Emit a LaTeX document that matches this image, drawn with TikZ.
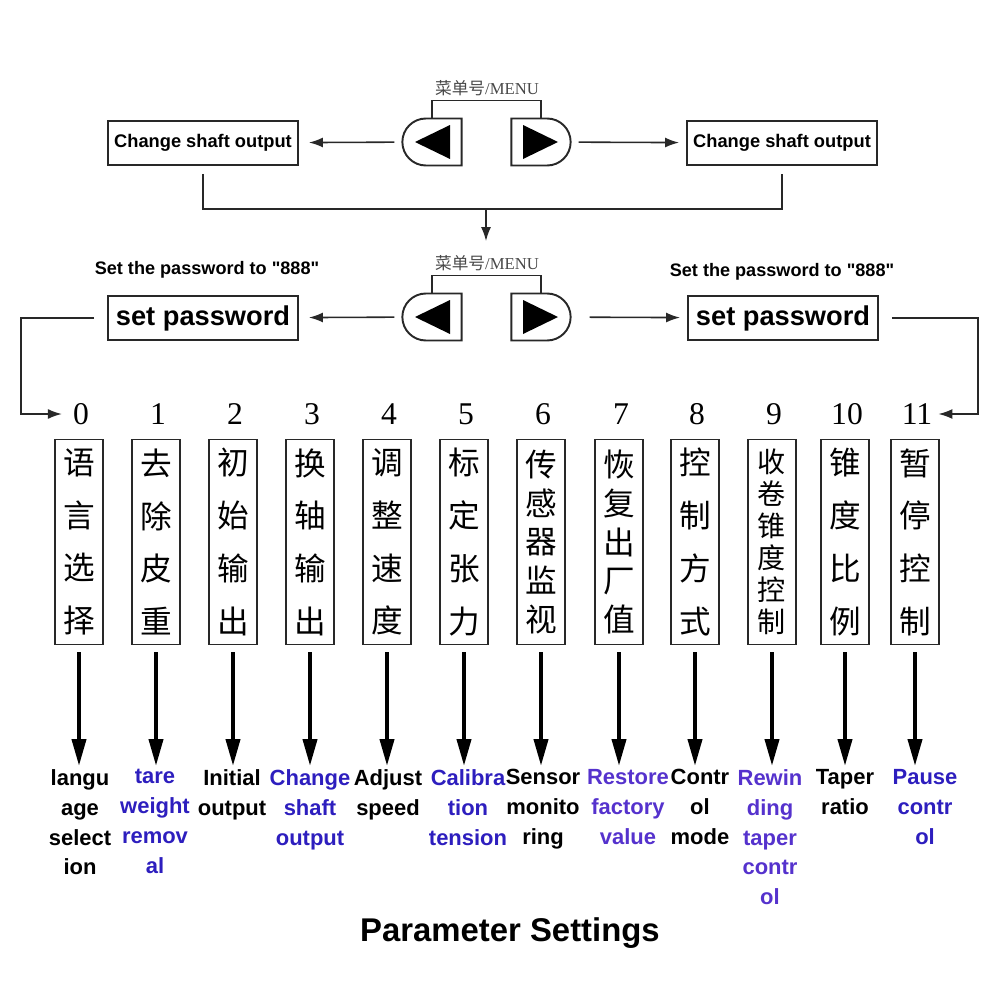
\documentclass[tikz,border=0pt]{standalone}
\usepackage{fontspec}
\setmainfont{Liberation Sans}[Ligatures=TeXOff]
\newfontfamily\numfont{Liberation Serif}
\newfontfamily\cjk{Noto Sans CJK SC}
\usetikzlibrary{positioning,shapes.misc,arrows.meta}
\definecolor{lblue}{RGB}{45,30,190}
\definecolor{lpurple}{RGB}{85,50,205}
\definecolor{ink}{RGB}{40,40,40}

\begin{document}
\begin{tikzpicture}[x=0.2mm,y=-0.2mm,
  box/.style={draw=ink,line width=1.1pt,minimum height=8.8mm,minimum width=38mm,inner sep=0pt},
  btnleft/.style={draw=ink,line width=1.1pt,rounded rectangle,rounded rectangle right arc=none,minimum width=14.2mm,minimum height=9.4mm},
  btnright/.style={draw=ink,line width=1.1pt,rounded rectangle,rounded rectangle left arc=none,minimum width=14.2mm,minimum height=9.4mm},
  menu/.style={text=ink!85,font=\cjk\fontsize{9.5}{11}\selectfont},
  col/.style={draw=ink,line width=1.1pt,minimum width=9.6mm,minimum height=41mm,inner sep=0pt,align=center},
  num/.style={font=\numfont\fontsize{18}{20}\selectfont},
  lbl/.style={anchor=north,align=center,inner sep=0pt,font=\bfseries\fontsize{12.5}{17}\selectfont},
  thin/.style={draw=ink,line width=0.9pt},
  tip/.style={-{Latex[length=2.8mm,width=2mm]}},
  thick/.style={line width=2.3pt,-{Triangle[length=5.4mm,width=2.8mm]}}]
\useasboundingbox (0,0) rectangle (1000,1000);

% first menu row
\node[menu] (menu1) at (487,88) {菜单号{\numfont/MENU}};
\node[btnleft] (lb1) at (432,142) {};
\node[btnright] (rb1) at (541,142) {};
\node[box,font=\bfseries\fontsize{10.4}{12}\selectfont] (out1) at (203,143) {Change shaft output};
\node[box,font=\bfseries\fontsize{10.4}{12}\selectfont] (out2) at (782,143) {Change shaft output};
\fill ([shift={(-17,0)}]lb1.center) -- ++(35,-17) -- ++(0,34) -- cycle;
\fill ([shift={(17,0)}]rb1.center) -- ++(-35,-17) -- ++(0,34) -- cycle;
\draw[thin] (lb1.north) -- ++(0,-17) -| (rb1.north);
\draw[thin,tip,shorten <=1.4mm,shorten >=2mm] (lb1) -- (out1);
\draw[thin,tip,shorten <=1.4mm,shorten >=1.4mm] (rb1) -- (out2);

% join to second row
\coordinate (join) at (486,209);
\draw[thin,shorten <=1.6mm,shorten >=1.6mm] (out1.south) |- (join) -| (out2.south);

% second menu row
\node[menu] (menu2) at (487,263) {菜单号{\numfont/MENU}};
\draw[thin,tip,shorten >=1.6mm] (join) -- (join |- menu2.north);
\node[font=\bfseries\fontsize{10.3}{12}\selectfont] (note1) at (207,270) {Set the password to "888"};
\node[font=\bfseries\fontsize{10.3}{12}\selectfont] (note2) at (782,272) {Set the password to "888"};
\node[btnleft] (lb2) at (432,317) {};
\node[btnright] (rb2) at (541,317) {};
\node[box,font=\bfseries\fontsize{15.5}{18}\selectfont] (pw1) at (203,318) {set password};
\node[box,font=\bfseries\fontsize{15.5}{18}\selectfont] (pw2) at (783,318) {set password};
\fill ([shift={(-17,0)}]lb2.center) -- ++(35,-17) -- ++(0,34) -- cycle;
\fill ([shift={(17,0)}]rb2.center) -- ++(-35,-17) -- ++(0,34) -- cycle;
\draw[thin] (lb2.north) -- ++(0,-17) -| (rb2.north);
\draw[thin,tip,shorten <=1.4mm,shorten >=2mm] (lb2) -- (pw1);
\draw[thin,tip,shorten <=3.6mm,shorten >=1.4mm] (rb2) -- (pw2);

% parameter columns
\foreach \i/\x/\fs/\bs/\zh in {0/79/18/30/{语\\言\\选\\择}, 1/156/18/30/{去\\除\\皮\\重},
  2/233/18/30/{初\\始\\输\\出}, 3/310/18/30/{换\\轴\\输\\出}, 4/387/18/30/{调\\整\\速\\度},
  5/464/18/30/{标\\定\\张\\力}, 6/541/18/22/{传\\感\\器\\监\\视}, 7/619/18/22/{恢\\复\\出\\厂\\值},
  8/695/18/30/{控\\制\\方\\式}, 9/772/16/18.2/{收\\卷\\锥\\度\\控\\制}, 10/845/18/30/{锥\\度\\比\\例},
  11/915/18/30/{暂\\停\\控\\制}}{
  \node[col,font={\cjk\fontsize{\fs}{\bs}\selectfont}] (c\i) at (\x,542) {\zh};
  \node[num] (n\i) at (\x+2,414) {\i};
}

\draw[thin,tip,shorten <=2.6mm,shorten >=1mm] (pw1.west) -- ++(-86,0) |- (n0);
\draw[thin,tip,shorten <=2.6mm] (pw2.east) -- ++(99,0) |- (n11);

% labels under the columns
\foreach \i/\xl/\c/\txt in {0/80/black/{langu\\age\\select\\ion}, 1/155/lblue/{tare\\weight\\remov\\al},
  2/232/black/{Initial\\output}, 3/310/lblue/{Change\\shaft\\output}, 4/388/black/{Adjust\\speed},
  5/468/lblue/{Calibra\\tion\\tension}, 6/543/black/{Sensor\\monito\\ring},
  7/628/lpurple/{Restore\\factory\\value}, 8/700/black/{Contr\\ol\\mode},
  9/770/lpurple/{Rewin\\ding\\taper\\contr\\ol}, 10/845/black/{Taper\\ratio},
  11/925/lblue/{Pause\\contr\\ol}}{
  \node[lbl,text=\c] (l\i) at (\xl,769) {\txt};
  \draw[thick,shorten <=1.4mm,shorten >=0.6mm] (c\i.south) -- (c\i.south |- l\i.north);
}

\node[font=\bfseries\fontsize{18.7}{22}\selectfont] (title) at (510,933) {Parameter Settings};
\end{tikzpicture}
\end{document}
